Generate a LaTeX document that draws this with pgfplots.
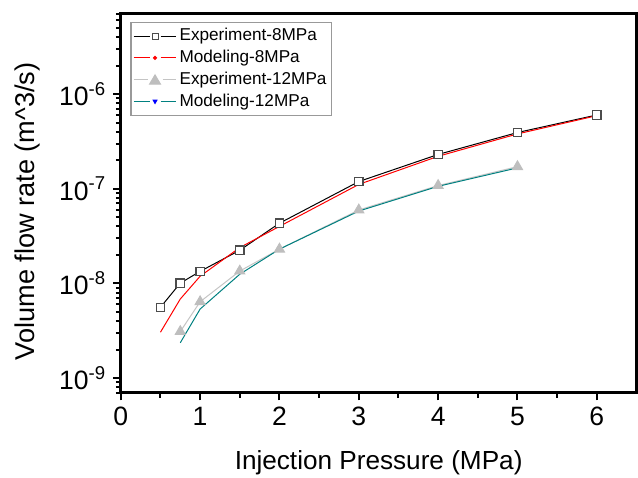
\documentclass[border=0pt]{standalone}
\usepackage{fontspec}
\setmainfont{Liberation Sans}
\usepackage{pgfplots}
\pgfplotsset{compat=1.18}
\definecolor{tealc}{RGB}{0,128,128}
\definecolor{lgray}{RGB}{196,196,196}
\definecolor{tgray}{RGB}{190,190,190}
\begin{document}
\begin{tikzpicture}
\begin{axis}[
  scale only axis, width=258.35bp, height=189.75bp,
  xmin=0, xmax=6.5, ymode=log, ymin=7e-10, ymax=7e-6,
  axis line style={line width=1.5bp},
  tick align=outside, xtick pos=left, ytick pos=left,
  major tick length=3.8bp, minor tick length=2.5bp,
  every tick/.style={line width=1bp, black},
  xtick={0,1,2,3,4,5,6},
  minor xtick={0.5,1.5,2.5,3.5,4.5,5.5},
  ytick={1e-9,1e-8,1e-7,1e-6},
  yticklabels={10\textsuperscript{-9},10\textsuperscript{-8},10\textsuperscript{-7},10\textsuperscript{-6}},
  minor ytick={7e-10,8e-10,9e-10,2e-9,3e-9,4e-9,5e-9,6e-9,7e-9,8e-9,9e-9,2e-8,3e-8,4e-8,5e-8,6e-8,7e-8,8e-8,9e-8,2e-7,3e-7,4e-7,5e-7,6e-7,7e-7,8e-7,9e-7,2e-6,3e-6,4e-6,5e-6,6e-6,7e-6},
  /pgf/number format/assume math mode=true,
  ticklabel style={font=\fontsize{13.3bp}{16bp}\selectfont},
  xlabel={Injection Pressure (MPa)},
  ylabel={Volume flow rate (m\textasciicircum 3/s)},
  xlabel style={font=\fontsize{13.1bp}{16bp}\selectfont, at={(axis description cs:0.5,-0.2016)}, anchor=base},
  ylabel style={font=\fontsize{13.6bp}{16bp}\selectfont, at={(axis description cs:-0.1664,0.479)}, anchor=base, rotate=0},
  legend style={at={(axis description cs:0.0188,0.9797)}, anchor=north west,
    draw=black!40, line width=0.6bp, inner xsep=1bp, inner ysep=1.5bp,
    font=\fontsize{8.6bp}{10bp}\selectfont,
    nodes={text height=6.5bp, text depth=1.8bp, inner sep=1.3bp},
    row sep=0pt},
  legend cell align=left,
  clip=false,
]
% Experiment-8MPa
\addplot[forget plot, black, line width=0.5bp, mark=square*, mark size=2.1bp,
  mark options={fill=white, draw=black!70, line width=0.6bp}]
  coordinates {(0.5,5.59e-9)(0.75,1.007e-8)(1,1.34e-8)(1.5,2.24e-8)(2,4.32e-8)(3,1.19e-7)(4,2.30e-7)(5,3.92e-7)(6,6.01e-7)};
% Modeling-8MPa
\addplot[forget plot, red, line width=0.5bp]
  coordinates {(0.5,3.05e-9)(0.75,6.84e-9)(1,1.19e-8)(1.5,2.39e-8)(2,4.0e-8)(3,1.11e-7)(4,2.20e-7)(5,3.79e-7)(6,5.91e-7)};
% Experiment-12MPa
\addplot[forget plot, lgray, line width=0.5bp, mark=triangle*, mark size=2.9bp,
  mark options={fill=tgray, draw=tgray}]
  coordinates {(0.75,3.10e-9)(1,6.40e-9)(1.5,1.35e-8)(2,2.30e-8)(3,5.96e-8)(4,1.08e-7)(5,1.71e-7)};
% Modeling-12MPa
\addplot[forget plot, tealc, line width=0.5bp]
  coordinates {(0.75,2.36e-9)(1,5.36e-9)(1.5,1.25e-8)(2,2.30e-8)(3,5.81e-8)(4,1.06e-7)(5,1.66e-7)};

\addlegendimage{legend image code/.code={
  \draw[black, line width=0.5bp] (0bp,0bp) -- (8bp,0bp);
  \draw[black, line width=0.5bp] (13.5bp,0bp) -- (21.5bp,0bp);
  \draw[black!70, fill=white, line width=0.5bp] (9.25bp,-1.5bp) rectangle (12.25bp,1.5bp);
}}
\addlegendentry{Experiment-8MPa}
\addlegendimage{legend image code/.code={
  \draw[red, line width=0.5bp] (0bp,0bp) -- (8bp,0bp);
  \draw[red, line width=0.5bp] (13.5bp,0bp) -- (21.5bp,0bp);
  \fill[red] (10.75bp,0bp) circle (0.7bp);
}}
\addlegendentry{Modeling-8MPa}
\addlegendimage{legend image code/.code={
  \draw[lgray, line width=0.5bp] (0bp,0bp) -- (7bp,0bp);
  \draw[lgray, line width=0.5bp] (14.5bp,0bp) -- (21.5bp,0bp);
  \fill[tgray] (10.75bp,2.3bp) -- (13.4bp,-2.2bp) -- (8.1bp,-2.2bp) -- cycle;
}}
\addlegendentry{Experiment-12MPa}
\addlegendimage{legend image code/.code={
  \draw[tealc, line width=0.5bp] (0bp,0bp) -- (8bp,0bp);
  \draw[tealc, line width=0.5bp] (13.5bp,0bp) -- (21.5bp,0bp);
  \fill[blue] (9.9bp,0.6bp) -- (11.6bp,0.6bp) -- (10.75bp,-0.9bp) -- cycle;
}}
\addlegendentry{Modeling-12MPa}
\end{axis}
\pgfresetboundingbox
\path (-60.5bp,-42.25bp) rectangle (259.1bp,196.75bp);
\end{tikzpicture}
\end{document}
